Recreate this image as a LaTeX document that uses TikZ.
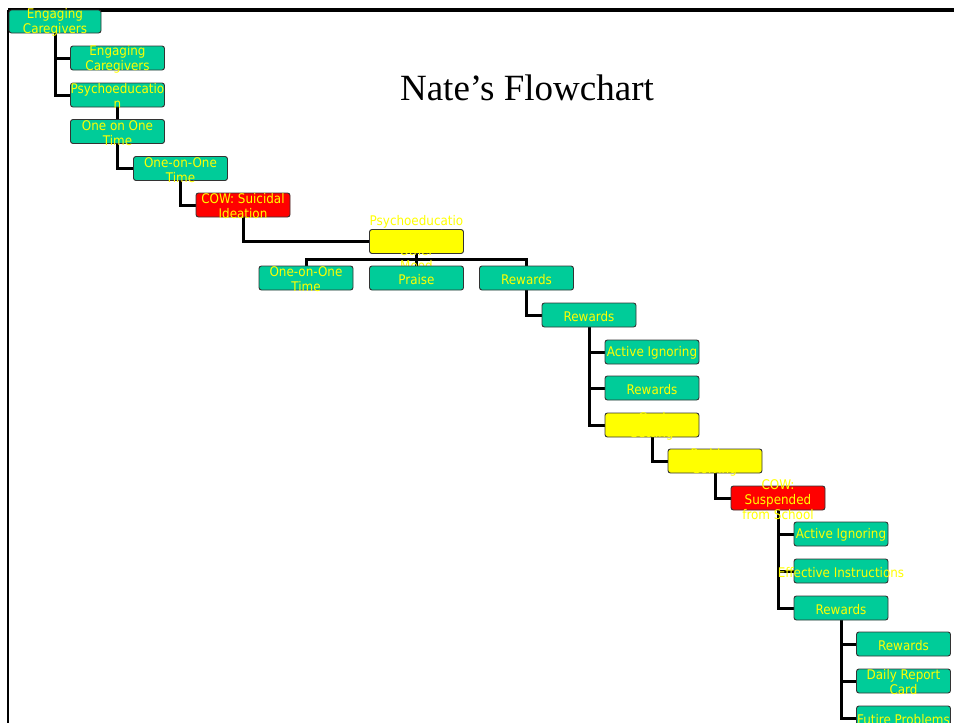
\documentclass[tikz,border=0pt]{standalone}
\usepackage{fontspec}
\usepackage{xcolor}
\setmainfont{Liberation Serif}
\newfontfamily\boxfont{DejaVu Sans Condensed}
\usetikzlibrary{backgrounds}
\definecolor{boxgreen}{RGB}{0, 204, 153}
\definecolor{cowred}{RGB}{255, 0, 0}
\definecolor{hiyellow}{RGB}{255, 255, 0}

\begin{document}
\begin{tikzpicture}[x=1pt,y=-1pt,
    box/.style={draw=black!80, line width=0.9pt, fill=boxgreen, rounded corners=2.5pt,
        minimum width=94pt, minimum height=24pt, inner sep=0pt},
    cow/.style={box, fill=cowred},
    hold/.style={box, fill=hiyellow},
    lbl/.style={text=hiyellow, align=center, inner sep=0pt, yshift=-1.2pt,
        font=\boxfont\fontsize{13.3}{15}\selectfont},
    link/.style={line width=3pt}]
    \useasboundingbox (0,0) rectangle (954,723);
    % frame
    \draw[line width=3.5pt] (954,10) -- (8,10);
    \draw[line width=2.5pt] (8,10) -- (8,723);

    \node at (527,88) {\fontsize{37}{40}\selectfont Nate’s Flowchart};

    \node[box, minimum width=92pt, minimum height=23pt] (care1) at (55,21.5)
        [label={[lbl]center:{Engaging\\Caregivers}}] {};
    \node[box] (care2) at (117.5,58) [label={[lbl]center:{Engaging\\Caregivers}}] {};
    \node[box] (psych1) at (117.5,95) [label={[lbl]center:{Psychoeducatio\\n}}] {};
    \node[box] (one1) at (117.5,131.5) [label={[lbl]center:{One on One\\Time}}] {};
    \node[box] (one2) at (180.5,168.5) [label={[lbl]center:{One-on-One\\Time}}] {};
    \node[cow] (cow1) at (243,205) [label={[lbl]center:{COW: Suicidal\\Ideation}}] {};
    \node[hold] (psych2) at (416.5,241.5)
        [label={[lbl]center:{Psychoeducatio\\n: Depression\\Other\\Mood}}] {};
    \node[box] (one3) at (306,278) [label={[lbl]center:{One-on-One\\Time}}] {};
    \node[box] (praise) at (416.5,278) [label={[lbl]center:Praise}] {};
    \node[box] (rew1) at (526.5,278) [label={[lbl]center:Rewards}] {};
    \node[box] (rew2) at (589,315) [label={[lbl]center:Rewards}] {};
    \node[box] (ign1) at (652,352) [label={[lbl]center:Active Ignoring}] {};
    \node[box] (rew3) at (652,388) [label={[lbl]center:Rewards}] {};
    \node[hold] (goal) at (652,425) [label={[lbl]center:{Goal\\Setting}}] {};
    \node[hold] (solve) at (715,461) [label={[lbl]center:{Problem\\Solving}}] {};
    \node[cow] (cow2) at (778,498) [label={[lbl]center:{COW:\\Suspended\\from School}}] {};
    \node[box] (ign2) at (841,534) [label={[lbl]center:Active Ignoring}] {};
    \node[box] (instr) at (841,571) [label={[lbl]center:Effective Instructions}] {};
    \node[box] (rew4) at (841,608) [label={[lbl]center:Rewards}] {};
    \node[box] (rew5) at (903.5,644) [label={[lbl]center:Rewards}] {};
    \node[box] (card) at (903.5,681) [label={[lbl]center:{Daily Report\\Card}}] {};
    \node[box] (futr) at (903.5,718) [label={[lbl]center:Futire Problems}] {};

    \coordinate (split) at (416.5,259);

    \begin{scope}[on background layer]
        \draw[link] (care1.south) |- (care2.west);
        \draw[link] (care1.south) |- (psych1.west);
        \draw[link] (psych1) -- (one1);
        \draw[link] (one1.south) |- (one2.west);
        \draw[link] (one2.south) |- (cow1.west);
        \draw[link] (cow1.south) |- (psych2.west);
        \draw[link] (psych2.south) -- (split);
        \draw[link] (split) -| (one3.north);
        \draw[link] (split) -| (rew1.north);
        \draw[link] (split) -- (praise.north);
        \draw[link] (rew1.south) |- (rew2.west);
        \draw[link] (rew2.south) |- (ign1.west);
        \draw[link] (rew2.south) |- (rew3.west);
        \draw[link] (rew2.south) |- (goal.west);
        \draw[link] (goal.south) |- (solve.west);
        \draw[link] (solve.south) |- (cow2.west);
        \draw[link] (cow2.south) |- (ign2.west);
        \draw[link] (cow2.south) |- (instr.west);
        \draw[link] (cow2.south) |- (rew4.west);
        \draw[link] (rew4.south) |- (rew5.west);
        \draw[link] (rew4.south) |- (card.west);
        \draw[link] (rew4.south) |- (futr.west);
    \end{scope}
\end{tikzpicture}
\end{document}
